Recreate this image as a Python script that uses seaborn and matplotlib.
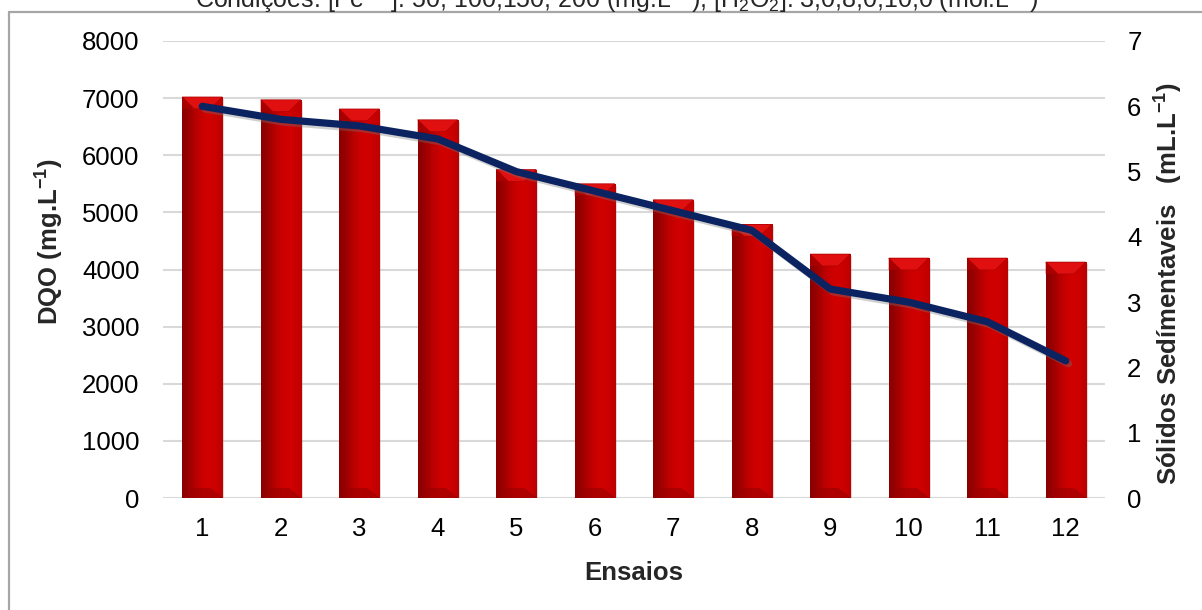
import numpy as np
import matplotlib
matplotlib.use("Agg")
import matplotlib.pyplot as plt
import matplotlib.patheffects as pe
from matplotlib.patches import Polygon
from matplotlib.lines import Line2D
from matplotlib.colors import LinearSegmentedColormap
import seaborn as sns

# Ensaios (runs) and measured values
ensaios = ["1", "2", "3", "4", "5", "6", "7", "8", "9", "10", "11", "12"]
dqo = [7020, 6970, 6810, 6620, 5750, 5500, 5220, 4790, 4270, 4200, 4200, 4130]
solidos = [6.0, 5.8, 5.7, 5.5, 5.0, 4.7, 4.4, 4.1, 3.2, 3.0, 2.7, 2.1]

dqo_ticks = list(range(0, 8001, 1000))
sol_ticks = list(range(0, 8))

titulo = ("Condições: [Fe$^{2+}$]: 50; 100,150; 200 (mg.L$^{-1}$); "
          "[H$_2$O$_2$]: 3,0;8,0;10,0 (mol.L$^{-1}$)")

sns.set_theme(style="white")
plt.rcParams["font.family"] = ["Liberation Sans", "DejaVu Sans"]
plt.rcParams["mathtext.fontset"] = "custom"
plt.rcParams["mathtext.rm"] = "Liberation Sans"
plt.rcParams["mathtext.bf"] = "Liberation Sans:bold"

W, H = 1202, 610
fig = plt.figure(figsize=(W / 100, H / 100), dpi=100)
ax = fig.add_axes([163 / W, 1 - 498 / H, (1105 - 163) / W, (498 - 41) / H])

bar_red = "#c00000"
sns.barplot(x=ensaios, y=dqo, ax=ax, color=bar_red, width=0.51,
            saturation=1, edgecolor="#8a0000", linewidth=0.6, zorder=3)

ax.set_xlim(-0.5, len(ensaios) - 0.5)
ax.set_ylim(dqo_ticks[0], dqo_ticks[-1])
ax.set_yticks(dqo_ticks)
ax.grid(axis="y", color="#d9d9d9", linewidth=1.5, zorder=0)
ax.set_axisbelow(True)
for s in ax.spines.values():
    s.set_visible(False)

# Shaded fill and bevelled caps on every bar
grad = np.array([[0.0, 0.25, 0.55, 0.8, 0.95, 1.0, 0.92, 0.75]])
cmap = LinearSegmentedColormap.from_list("bar", ["#8c0000", "#d10000"])
bevel_h = 0.026 * (dqo_ticks[-1] - dqo_ticks[0])
for p in ax.patches:
    x0, w, h = p.get_x(), p.get_width(), p.get_height()
    p.set_path_effects([pe.SimplePatchShadow(offset=(1.5, -1.5), shadow_rgbFace="#999999", alpha=0.35),
                        pe.Normal()])
    im = ax.imshow(grad, extent=[x0, x0 + w, 0, h], aspect="auto", cmap=cmap,
                   vmin=0, vmax=1, zorder=3.5, interpolation="bicubic")
    im.set_clip_path(p)
    inset = 0.3 * w
    cap = Polygon([[x0, h], [x0 + w, h], [x0 + w - inset, h - bevel_h],
                   [x0 + inset, h - bevel_h]], closed=True,
                  facecolor="#e01010", edgecolor="#b00000", linewidth=0.5, zorder=3.6)
    ax.add_patch(cap)
    left_tri = Polygon([[x0, h], [x0 + inset, h - bevel_h], [x0, h - bevel_h]],
                       closed=True, facecolor="#a80000", edgecolor="none", zorder=3.6)
    ax.add_patch(left_tri)
    base = Polygon([[x0, 0], [x0 + w, 0], [x0 + w - inset, bevel_h * 0.8],
                    [x0 + inset, bevel_h * 0.8]], closed=True,
                   facecolor="#9a0000", edgecolor="#880000", linewidth=0.4,
                   alpha=0.6, zorder=3.6)
    ax.add_patch(base)

ax.set_xlim(-0.5, len(ensaios) - 0.5)
ax.set_ylim(dqo_ticks[0], dqo_ticks[-1])

ax.tick_params(axis="y", length=0, labelsize=18.5, colors="black", pad=17)
ax.tick_params(axis="x", length=0, labelsize=18.5, colors="black", pad=14)
ax.set_xlabel("Ensaios", fontsize=18.5, fontweight="bold", labelpad=14)
ax.set_ylabel("DQO (mg.L$^{\\mathbf{-1}}$)", fontsize=18.5, fontweight="bold")
ax.yaxis.set_label_coords(-0.104, 0.56)

ax2 = ax.twinx()
sns.lineplot(x=np.arange(len(ensaios)), y=solidos, ax=ax2, color="#0b2461",
             linewidth=5.2, zorder=5, solid_capstyle="round", solid_joinstyle="round")
ax2.lines[0].set_path_effects([
    pe.SimpleLineShadow(offset=(2, -2), shadow_color="#777777", alpha=0.35),
    pe.Normal()])
ax2.set_ylim(sol_ticks[0], sol_ticks[-1])
ax2.set_yticks(sol_ticks)
ax2.set_xlim(-0.5, len(ensaios) - 0.5)
ax2.grid(False)
for s in ax2.spines.values():
    s.set_visible(False)
ax2.tick_params(axis="y", length=0, labelsize=18.5, colors="black", pad=16)
ax2.set_ylabel("Sólidos Sedímentaveis   (mL.L$^{\\mathbf{-1}}$)", fontsize=18.5,
               fontweight="bold")
ax2.yaxis.set_label_coords(1.049, 0.47)

# Frame around the chart area
fig.add_artist(Line2D([8.5 / W, 8.5 / W], [0, 1 - 11.5 / H], color="#a6a6a6",
                      linewidth=1.6, transform=fig.transFigure))
fig.add_artist(Line2D([8.5 / W, 1], [1 - 11.5 / H, 1 - 11.5 / H], color="#a6a6a6",
                      linewidth=1.6, transform=fig.transFigure))

fig.text(617 / W, 1 - 8 / H, titulo, ha="center", va="baseline", fontsize=18)

fig.savefig("out.png", dpi=100, facecolor="white")
